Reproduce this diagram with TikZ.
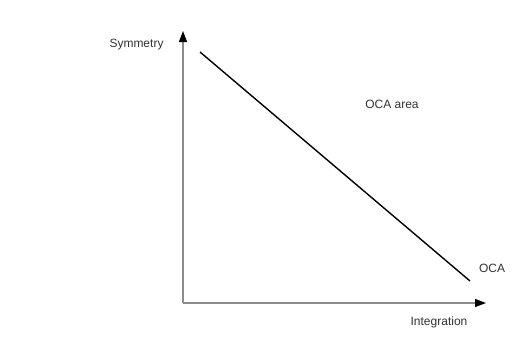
\documentclass[tikz,border=0pt]{standalone}
\usepackage{fontspec}
\setmainfont{Liberation Sans}
\usetikzlibrary{arrows.meta}
\begin{document}
\begin{tikzpicture}[x=1pt,y=-1pt,
  axis/.style={draw=black!45, line width=1.2pt, -{Triangle[length=11pt,width=8pt,color=black]}},
  lbl/.style={font=\fontsize{12}{14}\selectfont, text=black!80, inner sep=0pt},
  diag/.style={draw=black, line width=1.4pt}]
\useasboundingbox[fill=white] (0,0) rectangle (512,348);
\coordinate (o) at (183,303);
\coordinate (ytip) at (183,31);
\coordinate (xtip) at (486,303);
\coordinate (d1) at (200,52);
\coordinate (d2) at (470,281);
\draw[axis] (o) -- (ytip);
\draw[axis] (o) -- (xtip);
\draw[diag] (d1) -- (d2);
\node[lbl] (sym) at (136.5,45) {Symmetry};
\node[lbl] (int) at (439,322) {Integration};
\node[lbl] (area) at (392,104) {OCA area};
\node[lbl] (oca) at (492,268) {OCA};
\end{tikzpicture}
\end{document}
